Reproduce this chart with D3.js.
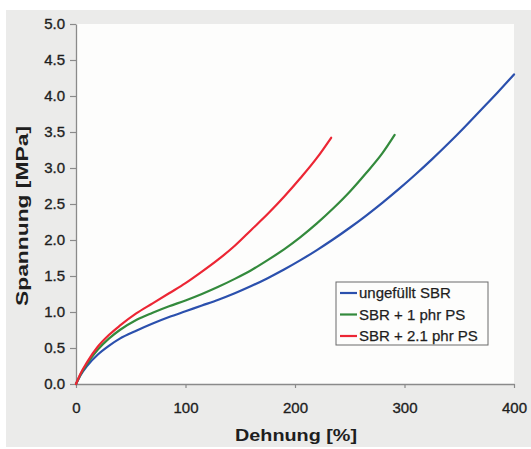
<!DOCTYPE html>
<html>
<head>
<meta charset="utf-8">
<script src="https://cdn.jsdelivr.net/npm/d3@7"></script>
<style>
  html, body { margin: 0; padding: 0; background: #fff; }
  svg { display: block; font-family: "Liberation Sans", Arial, sans-serif; }
</style>
</head>
<body>
<div id="chart"></div>
<script>
// Dehnung [%] / Spannung [MPa]
const seriesNames = ['ungefüllt SBR', 'SBR + 1 phr PS', 'SBR + 2.1 phr PS']

const strainBlue = [0, 4, 10, 20, 30, 40, 55, 70, 85, 100, 115, 130, 145, 160, 175, 190, 205, 220, 235, 250, 265, 280, 295, 310, 325, 340, 355, 370, 385, 400]
const stressBlue = [0, 0.12, 0.25, 0.41, 0.53, 0.63, 0.74, 0.84, 0.93, 1.01, 1.09, 1.17, 1.26, 1.36, 1.47, 1.59, 1.72, 1.86, 2.01, 2.17, 2.34, 2.52, 2.71, 2.91, 3.12, 3.34, 3.57, 3.81, 4.05, 4.30]

const strainGreen = [0, 4, 10, 20, 30, 40, 55, 70, 85, 100, 115, 130, 145, 160, 175, 190, 205, 220, 235, 250, 265, 280, 291]
const stressGreen = [0, 0.13, 0.28, 0.48, 0.63, 0.75, 0.89, 0.99, 1.08, 1.16, 1.25, 1.35, 1.46, 1.58, 1.72, 1.87, 2.04, 2.23, 2.44, 2.67, 2.93, 3.21, 3.46]

const strainRed = [0, 4, 10, 20, 30, 40, 55, 70, 85, 100, 115, 130, 145, 160, 175, 190, 205, 220, 233]
const stressRed = [0, 0.14, 0.30, 0.52, 0.68, 0.81, 0.98, 1.12, 1.26, 1.40, 1.56, 1.73, 1.92, 2.14, 2.36, 2.60, 2.86, 3.14, 3.42]

const xTicks = [0, 100, 200, 300, 400]
const yTicks = [0, 0.5, 1, 1.5, 2, 2.5, 3, 3.5, 4, 4.5, 5]

const colors = ['#2b50ad', '#338a3c', '#ec2634']

const width = 531, height = 449
const plot = { left: 76, right: 514, top: 24, bottom: 384 }

const series = [
  { name: seriesNames[0], color: colors[0], pts: strainBlue.map((d, i) => [d, stressBlue[i]]) },
  { name: seriesNames[1], color: colors[1], pts: strainGreen.map((d, i) => [d, stressGreen[i]]) },
  { name: seriesNames[2], color: colors[2], pts: strainRed.map((d, i) => [d, stressRed[i]]) }
]

const svg = d3.select('#chart').append('svg')
  .attr('width', width)
  .attr('height', height)

// grey scan background
svg.append('rect')
  .attr('x', 6).attr('y', 10)
  .attr('width', width - 6).attr('height', 437)
  .attr('fill', '#ebebea')

svg.append('rect')
  .attr('x', plot.left).attr('y', plot.top)
  .attr('width', plot.right - plot.left).attr('height', plot.bottom - plot.top)
  .attr('fill', '#fdfdfc')

const x = d3.scaleLinear().domain([0, 400]).range([plot.left, plot.right])
const y = d3.scaleLinear().domain([0, 5]).range([plot.bottom, plot.top])

const xAxis = svg.append('g')
  .attr('transform', `translate(0,${plot.bottom})`)
  .call(d3.axisBottom(x).tickValues(xTicks).tickSize(4).tickPadding(14).tickSizeOuter(0))

const yAxis = svg.append('g')
  .attr('transform', `translate(${plot.left},0)`)
  .call(d3.axisLeft(y).tickValues(yTicks).tickSize(6).tickPadding(5).tickSizeOuter(0).tickFormat(d3.format('.1f')))

;[xAxis, yAxis].forEach(g => {
  g.select('.domain').attr('stroke', '#8a8a8a').attr('stroke-width', 1.3)
  g.selectAll('.tick line').attr('stroke', '#8a8a8a').attr('stroke-width', 1.2)
  g.selectAll('.tick text')
    .attr('fill', '#1e1e1e')
    .attr('stroke', '#1e1e1e')
    .attr('stroke-width', 0.35)
    .style('font-size', '15px')
    .style('font-family', '"Liberation Sans", Arial, sans-serif')
})

const line = d3.line()
  .x(d => x(d[0]))
  .y(d => y(d[1]))
  .curve(d3.curveMonotoneX)

svg.append('g')
  .selectAll('path')
  .data(series)
  .enter()
  .append('path')
    .attr('d', d => line(d.pts))
    .attr('fill', 'none')
    .attr('stroke', d => d.color)
    .attr('stroke-width', 2.2)
    .attr('stroke-linejoin', 'round')
    .attr('stroke-linecap', 'round')

// axis titles
svg.append('text')
  .attr('x', 296).attr('y', 441)
  .attr('text-anchor', 'middle')
  .attr('font-weight', 'bold')
  .attr('font-size', 17)
  .attr('fill', '#1e1e1e')
  .attr('textLength', 122)
  .attr('lengthAdjust', 'spacingAndGlyphs')
  .text('Dehnung [%]')

svg.append('text')
  .attr('transform', 'translate(28,216) rotate(-90)')
  .attr('text-anchor', 'middle')
  .attr('font-weight', 'bold')
  .attr('font-size', 17)
  .attr('fill', '#1e1e1e')
  .attr('textLength', 180)
  .attr('lengthAdjust', 'spacingAndGlyphs')
  .text('Spannung [MPa]')

// legend
const legend = svg.append('g').attr('transform', 'translate(336,282)')
legend.append('rect')
  .attr('width', 152).attr('height', 63)
  .attr('fill', '#fdfdfc')
  .attr('stroke', '#6a6a6a')
  .attr('stroke-width', 1)

const rows = legend.selectAll('g.row')
  .data(series)
  .enter()
  .append('g')
    .attr('class', 'row')
    .attr('transform', (d, i) => `translate(0,${11 + i * 21.5})`)

rows.append('line')
  .attr('x1', 4).attr('x2', 21)
  .attr('stroke', d => d.color)
  .attr('stroke-width', 2.2)

rows.append('text')
  .attr('x', 23).attr('dy', '0.36em')
  .attr('font-size', 15)
  .attr('fill', '#1e1e1e')
  .attr('stroke', '#1e1e1e')
  .attr('stroke-width', 0.25)
  .text(d => d.name)
</script>
</body>
</html>
